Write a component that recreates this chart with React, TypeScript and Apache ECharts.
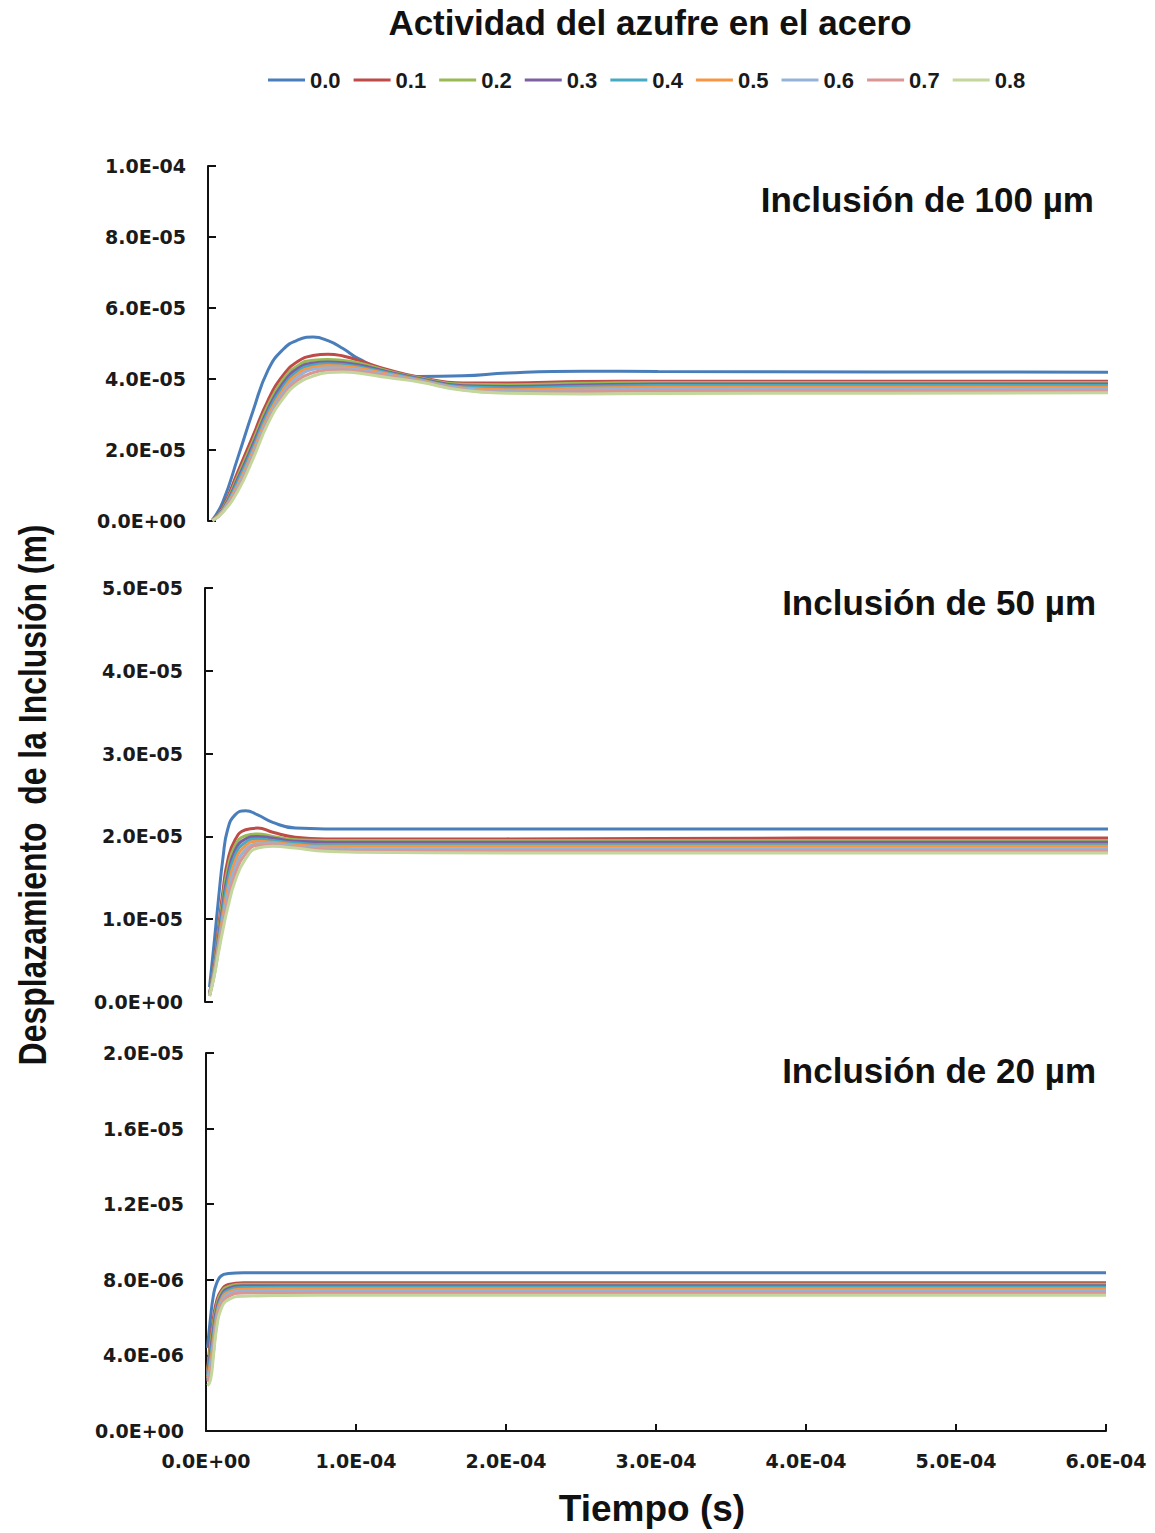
import React, { useEffect, useRef } from "react";
import * as echarts from "echarts";

// Series (sulfur activity in steel)
const SERIES_NAMES = ["0.0", "0.1", "0.2", "0.3", "0.4", "0.5", "0.6", "0.7", "0.8"];
const COLORS = ["#4A7EBB", "#BE4B48", "#98B954", "#7D60A0", "#46AAC5", "#F69544", "#95B3D7", "#D99694", "#C3D69B"];

// Time samples, in units of 1E-04 s
const T_100 = [0.03, 0.1, 0.2, 0.3, 0.4, 0.5, 0.6, 0.7, 0.8, 0.9, 1.0, 1.2, 1.4, 1.7, 2.0, 2.5, 3.0, 4.5, 6.0];
const T_50 = [0.03, 0.06, 0.09, 0.12, 0.15, 0.2, 0.27, 0.35, 0.45, 0.6, 0.8, 1.0, 2.0, 4.0, 6.0];
const T_20 = [0.01, 0.03, 0.05, 0.07, 0.1, 0.15, 0.25, 0.5, 1.0, 3.0, 6.0];

// Displacement, in units of 1E-06 m — inclusion of 100 µm
const D100_00 = [0.3, 5.5, 18, 31, 42.5, 48.3, 51.0, 51.8, 50.8, 48.6, 45.8, 42.1, 40.7, 40.9, 41.7, 42.2, 42.1, 42.0, 41.9];
const D100_01 = [0.2, 4, 14, 24, 34, 41, 45, 46.6, 47, 46.5, 45.3, 42.6, 40.6, 38.9, 38.9, 39.3, 39.4, 39.4, 39.4];
const D100_02 = [0.2, 3.6, 12.8, 22.6, 32.6, 39.8, 43.8, 45.3, 45.5, 45.2, 44.6, 42.3, 40.4, 38.5, 38.4, 38.8, 39.0, 39.0, 39.0];
const D100_03 = [0.2, 3.3, 12, 21.6, 31.5, 38.8, 43, 44.5, 44.8, 44.6, 44.0, 42.0, 40.2, 38.1, 37.9, 38.3, 38.6, 38.6, 38.6];
const D100_04 = [0.1, 3.1, 11.2, 20.6, 30.6, 37.8, 42.2, 43.9, 44.3, 44.1, 43.5, 41.7, 40.0, 37.8, 37.5, 37.9, 38.2, 38.2, 38.2];
const D100_05 = [0.1, 2.9, 10.4, 19.7, 29.6, 36.9, 41.5, 43.3, 43.8, 43.6, 43.1, 41.4, 39.8, 37.5, 37.0, 37.4, 37.7, 37.7, 37.7];
const D100_06 = [0.1, 2.8, 9.8, 19, 28.8, 36, 40.6, 42.7, 43.2, 43.1, 42.6, 41.1, 39.6, 37.3, 36.6, 36.9, 37.2, 37.2, 37.2];
const D100_07 = [0.1, 2.6, 9.1, 18.2, 28.1, 35.2, 39.7, 41.8, 42.5, 42.6, 42.2, 40.8, 39.4, 37.0, 36.3, 36.4, 36.7, 36.7, 36.7];
const D100_08 = [0.1, 2.5, 8.5, 17.5, 27.5, 34.5, 38.8, 40.8, 41.8, 42.0, 41.7, 40.4, 39.2, 36.8, 36.0, 35.8, 35.9, 36.0, 36.1];

// Displacement, in units of 1E-06 m — inclusion of 50 µm
const D50_00 = [1.8, 7, 12.5, 17.5, 20.8, 22.6, 23.1, 22.6, 21.7, 21.0, 20.9, 20.9, 20.9, 20.9, 20.9];
const D50_01 = [1.0, 4.5, 9, 13.5, 17, 19.6, 20.8, 21.0, 20.5, 19.9, 19.7, 19.7, 19.7, 19.8, 19.8];
const D50_02 = [0.9, 4.2, 8.4, 12.6, 16, 18.9, 20.1, 20.3, 20.0, 19.6, 19.5, 19.5, 19.5, 19.5, 19.5];
const D50_03 = [0.9, 3.9, 7.9, 11.9, 15.2, 18.3, 19.7, 20.0, 19.8, 19.4, 19.3, 19.3, 19.3, 19.3, 19.3];
const D50_04 = [0.8, 3.7, 7.4, 11.2, 14.5, 17.7, 19.3, 19.7, 19.5, 19.2, 19.0, 19.0, 19.0, 19.0, 19.0];
const D50_05 = [0.8, 3.5, 7.0, 10.5, 13.6, 17.0, 18.9, 19.4, 19.3, 19.0, 18.8, 18.8, 18.8, 18.8, 18.8];
const D50_06 = [0.8, 3.3, 6.6, 9.8, 12.8, 16.2, 18.4, 19.1, 19.1, 18.8, 18.6, 18.5, 18.5, 18.5, 18.5];
const D50_07 = [0.7, 3.1, 6.3, 9.3, 12.0, 15.4, 17.9, 18.9, 18.9, 18.7, 18.4, 18.3, 18.3, 18.3, 18.3];
const D50_08 = [0.7, 3.0, 6.0, 8.8, 11.3, 14.6, 17.3, 18.6, 18.8, 18.6, 18.2, 18.1, 18.0, 18.0, 18.0];

// Displacement, in units of 1E-06 m — inclusion of 20 µm
const D20_00 = [4.4, 6.0, 7.2, 7.8, 8.2, 8.33, 8.37, 8.37, 8.37, 8.37, 8.37];
const D20_01 = [3.2, 4.8, 6.0, 6.85, 7.42, 7.75, 7.85, 7.85, 7.85, 7.85, 7.85];
const D20_02 = [3.1, 4.5, 5.7, 6.6, 7.3, 7.65, 7.77, 7.77, 7.77, 7.77, 7.77];
const D20_03 = [3.0, 4.2, 5.4, 6.4, 7.15, 7.55, 7.68, 7.69, 7.69, 7.69, 7.69];
const D20_04 = [2.9, 3.9, 5.1, 6.2, 7.0, 7.45, 7.59, 7.6, 7.6, 7.6, 7.6];
const D20_05 = [2.8, 3.6, 4.8, 6.0, 6.9, 7.35, 7.5, 7.52, 7.52, 7.52, 7.52];
const D20_06 = [2.7, 3.3, 4.5, 5.8, 6.75, 7.25, 7.41, 7.43, 7.43, 7.43, 7.43];
const D20_07 = [2.6, 3.0, 4.2, 5.6, 6.6, 7.12, 7.3, 7.32, 7.32, 7.32, 7.32];
const D20_08 = [2.4, 2.7, 4.0, 5.4, 6.45, 6.95, 7.13, 7.17, 7.18, 7.18, 7.18];

const PANEL_100 = [D100_00, D100_01, D100_02, D100_03, D100_04, D100_05, D100_06, D100_07, D100_08];
const PANEL_50 = [D50_00, D50_01, D50_02, D50_03, D50_04, D50_05, D50_06, D50_07, D50_08];
const PANEL_20 = [D20_00, D20_01, D20_02, D20_03, D20_04, D20_05, D20_06, D20_07, D20_08];

const T_UNIT = 1e-4;
const D_UNIT = 1e-6;

function fmtE(v: number): string {
  const s = Number(v).toExponential(1);
  const [m, e] = s.split("e");
  const n = parseInt(e, 10);
  const sign = n < 0 ? "-" : "+";
  return m + "E" + sign + String(Math.abs(n)).padStart(2, "0");
}

const TICK_FONT = {
  fontFamily: "'DejaVu Sans', sans-serif",
  fontWeight: "bold" as const,
  fontSize: 19,
  color: "#1a1a1a",
};

export default function App() {
  const ref = useRef<HTMLDivElement>(null);

  useEffect(() => {
    if (!ref.current) return;
    const chart = echarts.init(ref.current, undefined, { renderer: "svg" });

    const grids = [
      { left: 208, top: 166, width: 900, height: 355 },
      { left: 205, top: 588, width: 903, height: 414 },
      { left: 206, top: 1053, width: 900, height: 378 },
    ];
    const yRanges = [
      { max: 1e-4, interval: 2e-5 },
      { max: 5e-5, interval: 1e-5 },
      { max: 2e-5, interval: 4e-6 },
    ];

    const xAxes = grids.map((_, i) => ({
      type: "value",
      gridIndex: i,
      min: 0,
      max: 6 * T_UNIT,
      interval: T_UNIT,
      axisLine: { show: i === 2, lineStyle: { color: "#111", width: 2 } },
      axisTick: { show: i === 2, inside: true, length: 7, lineStyle: { color: "#111", width: 2 } },
      axisLabel: { show: i === 2, margin: 20, formatter: fmtE, ...TICK_FONT },
      splitLine: { show: false },
    }));

    const yAxes = yRanges.map((r, i) => ({
      type: "value",
      gridIndex: i,
      min: 0,
      max: r.max,
      interval: r.interval,
      axisLine: { show: true, lineStyle: { color: "#111", width: 2 } },
      axisTick: { show: true, inside: true, length: 8, lineStyle: { color: "#111", width: 2 } },
      axisLabel: { margin: 22, formatter: fmtE, ...TICK_FONT },
      splitLine: { show: false },
    }));

    const panels = [
      { t: T_100, d: PANEL_100 },
      { t: T_50, d: PANEL_50 },
      { t: T_20, d: PANEL_20 },
    ];

    const series: any[] = [];
    panels.forEach((p, gi) => {
      p.d.forEach((vals, si) => {
        series.push({
          type: "line",
          name: SERIES_NAMES[si],
          xAxisIndex: gi,
          yAxisIndex: gi,
          data: vals.map((v, k) => [p.t[k] * T_UNIT, v * D_UNIT]),
          smooth: 0.5,
          symbol: "none",
          showSymbol: false,
          lineStyle: { width: 3, color: COLORS[si] },
          itemStyle: { color: COLORS[si] },
          emphasis: { disabled: true },
          silent: true,
        });
      });
    });

    const boldArial = "'Liberation Sans', Arial, sans-serif";

    const label = (text: string, x: number, y: number, size: number, align: string) => ({
      type: "text",
      x,
      y,
      style: {
        text,
        textAlign: align,
        textVerticalAlign: "middle",
        fontFamily: boldArial,
        fontWeight: "bold",
        fontSize: size,
        fill: "#111",
      },
    });

    chart.setOption({
      animation: false,
      backgroundColor: "#ffffff",
      grid: grids,
      xAxis: xAxes,
      yAxis: yAxes,
      legend: {
        data: SERIES_NAMES,
        left: 268,
        top: 69,
        icon: "rect",
        itemWidth: 37,
        itemHeight: 3,
        itemGap: 13,
        padding: 0,
        selectedMode: false,
        textStyle: {
          fontFamily: boldArial,
          fontWeight: "bold",
          fontSize: 22,
          color: "#1a1a1a",
        },
      },
      graphic: [
        label("Actividad del azufre en el acero", 650, 22, 35, "center"),
        label("Inclusión de 100 µm", 1094, 199, 35, "right"),
        label("Inclusión de 50 µm", 1096, 602, 35, "right"),
        label("Inclusión de 20 µm", 1096, 1070, 35, "right"),
        label("Tiempo (s)", 652, 1508, 37, "center"),
        {
          type: "text",
          x: 32,
          y: 795,
          rotation: Math.PI / 2,
          scaleX: 0.84,
          style: {
            text: "Desplazamiento  de la Inclusión (m)",
            textAlign: "center",
            textVerticalAlign: "middle",
            fontFamily: boldArial,
            fontWeight: "bold",
            fontSize: 38,
            fill: "#111",
          },
        },
      ],
      series,
    });

    return () => chart.dispose();
  }, []);

  return (
    <div
      ref={ref}
      style={{ position: "absolute", left: 0, top: 0, width: 1155, height: 1533, background: "#fff" }}
    />
  );
}
